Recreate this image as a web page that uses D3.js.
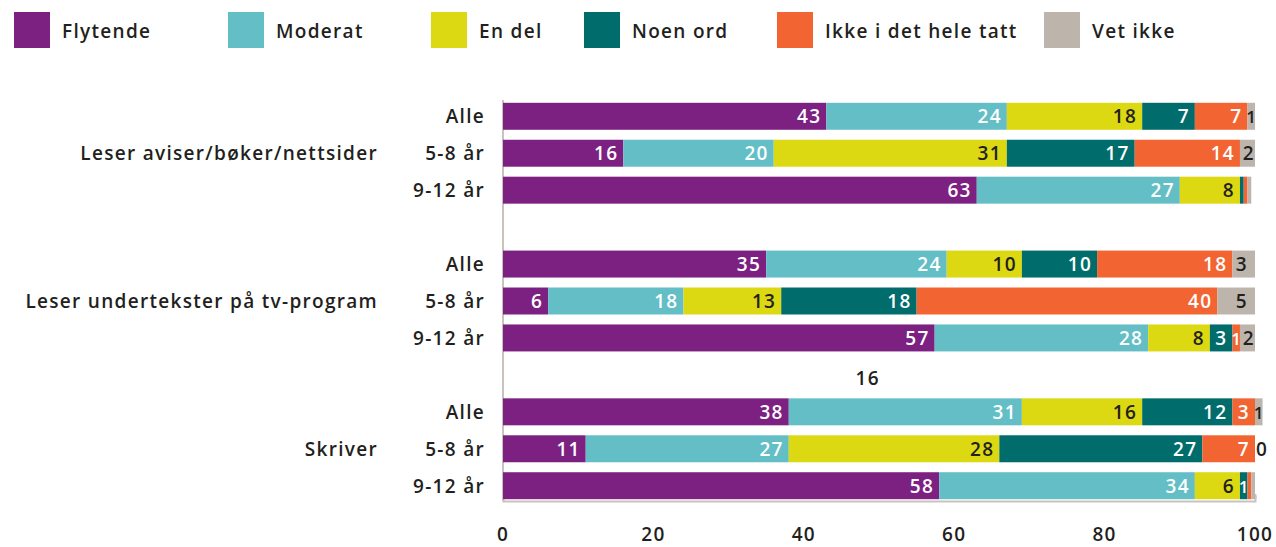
<!DOCTYPE html>
<html lang="no">
<head>
<meta charset="UTF-8">
<title>Lese- og skriveferdigheter</title>
<script src="https://d3js.org/d3.v7.min.js"></script>
<style>
  body { margin: 0; background: #fff; }
  text { font-family: "Open Sans", "DejaVu Sans", sans-serif; font-weight: 600; letter-spacing: 1.3px; }
</style>
</head>
<body>
<svg id="chart"></svg>
<script>
// categories / series
var levels = ["Flytende", "Moderat", "En del", "Noen ord", "Ikke i det hele tatt", "Vet ikke"];
var colors = ["#7c2181", "#64bec6", "#dcd812", "#006c6c", "#f26532", "#bdb5ac"];
var groups = ["Leser aviser/bøker/nettsider", "Leser undertekster på tv-program", "Skriver"];
var ages = ["Alle", "5-8 år", "9-12 år"];

// values per row (share in %, one entry per level)
var aviserAlle = [43, 24, 18, 7, 7, 1];
var aviser58   = [16, 20, 31, 17, 14, 2];
var aviser912  = [63, 27, 8, 0.5, 0.5, 0.5];
var tvAlle     = [35, 24, 10, 10, 18, 3];
var tv58       = [6, 18, 13, 18, 40, 5];
var tv912      = [57.4, 28.4, 8.2, 3, 1, 2];
var skrAlle    = [38, 31, 16, 12, 3, 1];
var skr58      = [11, 27, 28, 27, 7, 0];
var skr912     = [58, 34, 6, 1, 0.5, 0.5];

var xTicks = [0, 20, 40, 60, 80, 100];
var strayLabel = "16";

var rows = [
  { id: "g0a0", group: 0, age: 0, values: aviserAlle },
  { id: "g0a1", group: 0, age: 1, values: aviser58 },
  { id: "g0a2", group: 0, age: 2, values: aviser912 },
  { id: "g1a0", group: 1, age: 0, values: tvAlle },
  { id: "g1a1", group: 1, age: 1, values: tv58 },
  { id: "g1a2", group: 1, age: 2, values: tv912 },
  { id: "g2a0", group: 2, age: 0, values: skrAlle },
  { id: "g2a1", group: 2, age: 1, values: skr58 },
  { id: "g2a2", group: 2, age: 2, values: skr912 }
];
// band slots, with an empty slot between groups
var slots = ["g0a0", "g0a1", "g0a2", "s1", "g1a0", "g1a1", "g1a2", "s2", "g2a0", "g2a1", "g2a2"];

var width = 1276, height = 547;
var svg = d3.select("#chart").attr("width", width).attr("height", height);

var x = d3.scaleLinear().domain([0, 100]).range([503, 1255]);
var y = d3.scaleBand().domain(slots).range([98, 504]).paddingInner(0.27).paddingOuter(0.13);

// legend
var legendX = [14, 228, 431, 584, 777, 1044];
var legend = svg.append("g").selectAll("g")
    .data(levels)
  .enter().append("g")
    .attr("transform", function (d, i) { return "translate(" + legendX[i] + ",12)"; });
legend.append("rect")
    .attr("width", 36).attr("height", 36)
    .attr("fill", function (d, i) { return colors[i]; });
legend.append("text")
    .attr("x", 48).attr("y", 26)
    .attr("font-size", 19)
    .attr("fill", "#231f20")
    .text(function (d) { return d; });

// left axis line
svg.append("line")
    .attr("x1", x(0)).attr("x2", x(0))
    .attr("y1", 100).attr("y2", 501)
    .attr("stroke", "#c9c3bd").attr("stroke-width", 2);

// bottom axis
var axis = svg.append("g").attr("transform", "translate(0,501)")
    .call(d3.axisBottom(x).tickValues(xTicks).tickSize(-5).tickPadding(0).tickFormat(function () { return ""; }));
axis.select(".domain").attr("stroke", "#c9c3bd").attr("stroke-width", 2);
axis.selectAll(".tick line").attr("stroke", "#c9c3bd").attr("stroke-width", 2).attr("y1", -2).attr("y2", -7);

svg.append("g").selectAll("text")
    .data(xTicks)
  .enter().append("text")
    .attr("x", function (d) { return x(d); })
    .attr("y", 541)
    .attr("text-anchor", "middle")
    .attr("font-size", 19)
    .attr("fill", "#231f20")
    .text(function (d) { return d; });

// stacked segments
rows.forEach(function (r) {
  var acc = 0;
  var segs = r.values.map(function (v, i) {
    var s = { i: i, v: v, x0: acc, x1: acc + v };
    acc += v;
    return s;
  });
  var g = svg.append("g").attr("transform", "translate(0," + y(r.id) + ")");
  var h = y.bandwidth();
  g.selectAll("rect")
      .data(segs)
    .enter().append("rect")
      .attr("x", function (d) { return x(d.x0); })
      .attr("width", function (d) { return x(d.x1) - x(d.x0); })
      .attr("height", h)
      .attr("fill", function (d) { return colors[d.i]; });
  g.selectAll("text")
      .data(segs.filter(function (d) { return d.v >= 1 || d.v === 0; }))
    .enter().append("text")
      .attr("x", function (d) {
        var w = x(d.x1) - x(d.x0);
        if (d.v === 0) return x(d.x1) + 1;
        if (w < 12) return x(d.x1) + 1;
        if (d.i === 5) return w < 20 ? x(d.x1) : x(d.x1) - 7;
        return x(d.x1) - 5;
      })
      .attr("y", h / 2 + 7)
      .attr("text-anchor", function (d) { return d.v === 0 ? "start" : "end"; })
      .attr("font-size", function (d) { return (x(d.x1) - x(d.x0)) < 12 && d.v > 0 ? 17 : 19; })
      .style("letter-spacing", function (d) { return (x(d.x1) - x(d.x0)) < 12 ? "0px" : null; })
      .attr("fill", function (d) { return (d.i === 2 || d.i === 5) ? "#231f20" : "#fff"; })
      .text(function (d) { return Math.round(d.v); });

  // age label
  svg.append("text")
      .attr("x", 485)
      .attr("y", y(r.id) + h / 2 + 7)
      .attr("text-anchor", "end")
      .attr("font-size", 19)
      .attr("fill", "#231f20")
      .text(ages[r.age]);
});

// group labels
svg.append("g").selectAll("text")
    .data(groups)
  .enter().append("text")
    .attr("x", 378)
    .attr("y", function (d, i) { return y("g" + i + "a1") + y.bandwidth() / 2 + 7; })
    .attr("text-anchor", "end")
    .attr("font-size", 19)
    .attr("fill", "#231f20")
    .text(function (d) { return d; });

// stray value label between the second and third group
svg.append("text")
    .attr("x", x(48.5))
    .attr("y", 385)
    .attr("text-anchor", "middle")
    .attr("font-size", 19)
    .attr("fill", "#231f20")
    .text(strayLabel);
</script>
</body>
</html>
